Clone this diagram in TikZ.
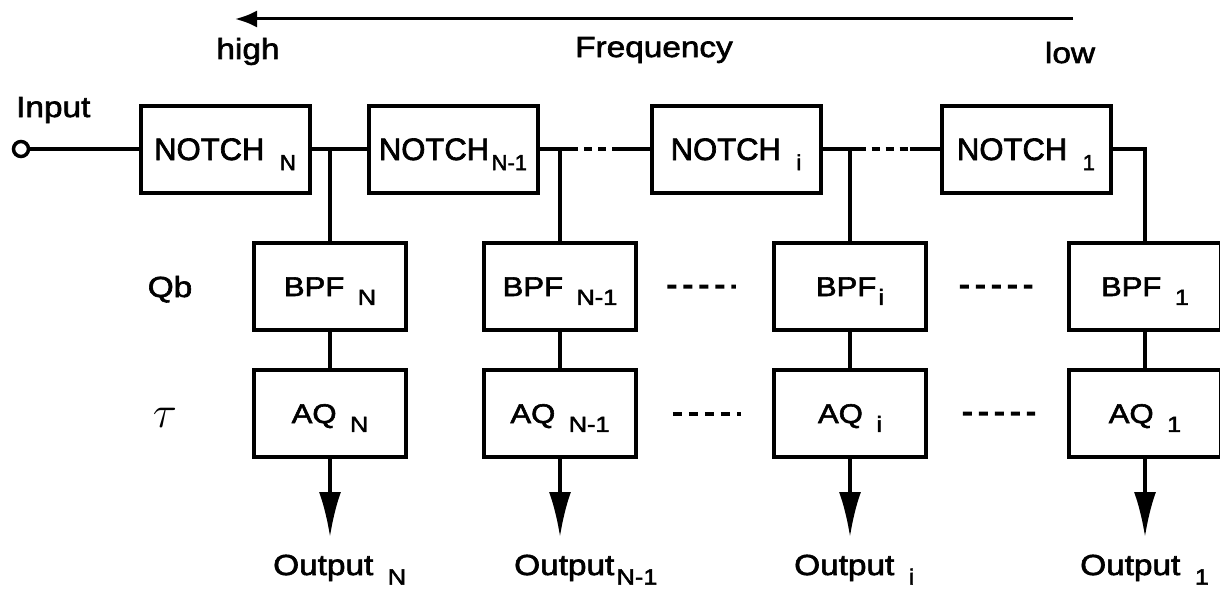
\documentclass[tikz,border=0pt]{standalone}
\usepackage{fontspec}
\setmainfont{Liberation Sans}[FakeBold=2.2]
\newfontfamily\widefont{Liberation Sans}[FakeStretch=1.15, FakeBold=2.2]
\usepackage{graphicx}
\usepackage{tikz}
\usetikzlibrary{arrows.meta,positioning,calc}
\newcommand{\sbs}[1]{\hspace{0.5em}\raisebox{-0.33em}{\fontsize{22}{22}\selectfont #1}}
\newcommand{\sbt}[1]{\hspace{0.08em}\raisebox{-0.33em}{\fontsize{22}{22}\selectfont #1}}
\tikzset{
  notchbox/.style={draw, line width=4pt, minimum width=169pt, minimum height=87pt, inner sep=0pt, text height=22pt, text depth=0pt, font=\fontsize{31}{31}\selectfont},
  filtbox/.style={notchbox, minimum width=152pt, text height=19pt, font=\widefont\fontsize{27}{27}\selectfont},
  wire/.style={line width=3.5pt},
  dots/.style={wire, dash pattern=on 8pt off 6pt},
  dash5/.style={line width=4pt, dash pattern=on 9pt off 7pt},
  outarr/.style={wire, -{Latex[length=45pt, width=22pt]}},
  lbl/.style={inner sep=0pt, font=\widefont\fontsize{29}{29}\selectfont},
}
\begin{document}
\begin{tikzpicture}[x=1pt, y=-1pt]
    \useasboundingbox (0,0) rectangle (1220,594);
    % frequency axis
    \coordinate (flo) at (1073,19);
    \coordinate (fhi) at (235,19);
    \draw[line width=3pt, -{Latex[length=22pt, width=17pt]}] (flo) -- (fhi);
    \node[lbl, anchor=base] (hi) at (248,59) {high};
    \node[lbl, anchor=base] (freq) at (654,57) {Frequency};
    \node[lbl, anchor=base] (lo) at (1070,63) {low};
    % notch chain
    \node[circle, draw, line width=3.5pt, minimum size=15pt, inner sep=0pt] (inp) at (21,149) {};
    \node[lbl, anchor=base west] (inlbl) at (16,117) {Input};
    \node[notchbox] (nN) at (225,149) {NOTCH\sbs{N}};
    \node[notchbox] (nN1) at (453,149) {NOTCH\sbt{N-1}};
    \node[notchbox] (nI) at (736,149) {NOTCH\sbs{i}};
    \node[notchbox] (n1) at (1026,149) {NOTCH\sbs{1}};
    \draw[wire] (inp) -- (nN);
    \draw[wire] (nN) -- (nN1);
    \draw[wire] (nN1.east) -- ($(nN1.east)!0.28!(nI.west)$) coordinate (da);
    \draw[dots] (da) -- ($(nN1.east)!0.72!(nI.west)$) coordinate (db);
    \draw[wire] (db) -- (nI.west);
    \draw[wire] (nI.east) -- ($(nI.east)!0.30!(n1.west)$) coordinate (dc);
    \draw[dots] (dc) -- ($(nI.east)!0.75!(n1.west)$) coordinate (dd);
    \draw[wire] (dd) -- (n1.west);
    % band-pass filters
    \node[lbl, anchor=base] (qb) at (170,297) {Qb};
    \node[filtbox] (bN) at (330,286.5) {BPF\sbs{N}};
    \node[filtbox] (bN1) at (560,286.5) {BPF\sbs{N-1}};
    \node[filtbox] (bI) at (850,286.5) {BPF\sbt{i}};
    \node[filtbox] (b1) at (1145,286.5) {BPF\sbs{1}};
    \draw[wire] (bN.north) -- (bN.north |- nN.east);
    \draw[wire] (bN1.north) -- (bN1.north |- nN1.east);
    \draw[wire] (bI.north) -- (bI.north |- nI.east);
    \draw[wire] (n1.east) -| (b1.north);
    \draw[dash5] ($(bN1.east)!0.22!(bI.west)$) -- ($(bN1.east)!0.73!(bI.west)$);
    \draw[dash5] ($(bI.east)!0.23!(b1.west)$) -- ($(bI.east)!0.75!(b1.west)$);
    % AQ stage
    \node[anchor=base] (tau) at (165,427) {\scalebox{1.8}{\fontsize{24}{24}\selectfont$\tau$}};
    \node[filtbox] (aN) at (330,413.5) {AQ\sbs{N}};
    \node[filtbox] (aN1) at (560,413.5) {AQ\sbs{N-1}};
    \node[filtbox] (aI) at (850,413.5) {AQ\sbs{i}};
    \node[filtbox] (a1) at (1145,413.5) {AQ\sbs{1}};
    \draw[wire] (bN) -- (aN); \draw[wire] (bN1) -- (aN1);
    \draw[wire] (bI) -- (aI); \draw[wire] (b1) -- (a1);
    \draw[dash5] ($(aN1.east)!0.26!(aI.west)$) -- ($(aN1.east)!0.77!(aI.west)$);
    \draw[dash5] ($(aI.east)!0.25!(a1.west)$) -- ($(aI.east)!0.77!(a1.west)$);
    % outputs
    \coordinate (oN) at (330,537);
    \coordinate (oN1) at (560,537);
    \coordinate (oI) at (850,537);
    \coordinate (o1) at (1145,537);
    \draw[outarr] (aN) -- (oN); \draw[outarr] (aN1) -- (oN1);
    \draw[outarr] (aI) -- (oI); \draw[outarr] (a1) -- (o1);
    \node[lbl, anchor=base west] (tN) at ([xshift=-57pt, yshift=-38pt]oN) {Output\sbs{N}};
    \node[lbl, anchor=base west] (tN1) at ([xshift=-46pt, yshift=-38pt]oN1) {Output\sbt{N-1}};
    \node[lbl, anchor=base west] (tI) at ([xshift=-56pt, yshift=-38pt]oI) {Output\sbs{i}};
    \node[lbl, anchor=base west] (t1) at ([xshift=-65pt, yshift=-38pt]o1) {Output\sbs{1}};
\end{tikzpicture}
\end{document}
